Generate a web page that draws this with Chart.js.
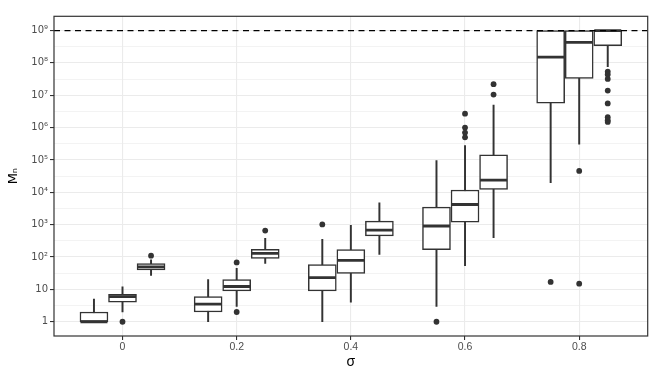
<!DOCTYPE html>
<html>
<head>
<meta charset="utf-8">
<script src="https://cdn.jsdelivr.net/npm/chart.js@4/dist/chart.umd.min.js"></script>
<style>
  html, body { margin: 0; padding: 0; background: #fff; }
  #wrap { width: 664px; height: 380px; }
</style>
</head>
<body>
<div id="wrap"><canvas id="boxChart"></canvas></div>
<script>
// box positions on the sigma axis
const positions = [-0.05, 0, 0.05, 0.15, 0.2, 0.25, 0.35, 0.4, 0.45, 0.55, 0.6, 0.65, 0.75, 0.8, 0.85];
// five-number summaries
const whiskerLow  = [1, 2, 27, 1, 3, 63, 1, 4, 120, 3, 54, 400, 2e4, 3.1e5, 7.6e7];
const q1          = [1, 4, 40, 2, 9, 91, 9, 31, 450, 170, 1200, 12300, 5.7e6, 3.3e7, 3.4e8];
const median      = [1, 6, 50, 3.5, 12.3, 129, 23, 79, 680, 910, 4200, 24000, 1.5e8, 4.3e8, 1e9];
const q3          = [2, 7, 63, 6, 20, 174, 58, 170, 1290, 3470, 11800, 1.45e5, 1e9, 1e9, 1e9];
const whiskerHigh = [5, 12, 82, 20, 45, 380, 355, 950, 4700, 96000, 2.8e5, 5e6, 1e9, 1e9, 1e9];
const outliers = [
  [], [1], [110],
  [], [68, 2], [660],
  [1020], [], [],
  [1], [2.7e6, 1e6, 7e5, 5e5], [2.2e7, 1.05e7],
  [17], [4.6e4, 15], [5.4e7, 4.4e7, 3.2e7, 1.4e7, 5.6e6, 2.1e6, 1.7e6, 1.5e6]
];
const xTicks = [0, 0.2, 0.4, 0.6, 0.8];
const yExponents = [0, 1, 2, 3, 4, 5, 6, 7, 8, 9];
const capLine = 1e9;

const sup = { '0': '⁰', '1': '¹', '2': '²', '3': '³', '4': '⁴', '5': '⁵', '6': '⁶', '7': '⁷', '8': '⁸', '9': '⁹' };
function isMajor(v) {
  const lg = Math.log10(v);
  return Math.abs(lg - Math.round(lg)) < 1e-6;
}

const ink = '#333333';
const gridCol = '#ebebeb';

// panel border like theme_bw
const framePlugin = {
  id: 'frame',
  afterDraw(chart) {
    const a = chart.chartArea;
    const c = chart.ctx;
    c.save();
    c.strokeStyle = ink;
    c.lineWidth = 1.2;
    c.strokeRect(a.left, a.top, a.right - a.left, a.bottom - a.top);
    c.restore();
  }
};

const outlierPts = [];
positions.forEach((x, i) => outliers[i].forEach(v => outlierPts.push({ x: x, y: v })));

const ctx = document.getElementById('boxChart').getContext('2d');
new Chart(ctx, {
  type: 'bar',
  data: {
    datasets: [
      {
        type: 'line',
        data: [{ x: -0.12, y: capLine }, { x: 0.92, y: capLine }],
        borderColor: '#000',
        borderWidth: 1.2,
        borderDash: [6, 4.5],
        pointRadius: 0,
        order: 0
      },
      {
        type: 'line',
        data: positions.map((x, i) => ({ x: x, y: median[i] })),
        showLine: false,
        pointStyle: 'line',
        pointRadius: 13.5,
        pointBorderWidth: 2.8,
        pointBorderColor: ink,
        order: 1
      },
      {
        type: 'line',
        data: outlierPts,
        showLine: false,
        pointRadius: 2.9,
        pointBackgroundColor: ink,
        pointBorderWidth: 0,
        order: 1
      },
      {
        data: positions.map((x, i) => ({ x: x, y: [q1[i], q3[i]] })),
        backgroundColor: '#fff',
        borderColor: ink,
        borderWidth: 1.5,
        borderSkipped: false,
        barThickness: 28,
        grouped: false,
        order: 2
      },
      {
        data: positions.map((x, i) => ({ x: x, y: [whiskerLow[i], whiskerHigh[i]] })),
        backgroundColor: ink,
        borderWidth: 0,
        barThickness: 1.3,
        grouped: false,
        order: 3
      }
    ]
  },
  options: {
    responsive: true,
    maintainAspectRatio: false,
    animation: false,
    layout: { padding: { left: 0, right: 7, top: 7, bottom: 0 } },
    plugins: { legend: { display: false }, tooltip: { enabled: false } },
    scales: {
      x: {
        type: 'linear',
        min: -0.12,
        max: 0.92,
        offset: false,
        afterBuildTicks: s => { s.ticks = xTicks.map(v => ({ value: v })); },
        afterFit: s => { s.height = 44; },
        grid: { color: gridCol, lineWidth: 1.1, tickColor: ink, tickLength: 4, offset: false },
        border: { display: false },
        ticks: {
          color: '#4d4d4d',
          font: { family: 'Liberation Sans', size: 10.5 },
          padding: 1,
          maxRotation: 0,
          callback: v => String(v)
        },
        title: {
          display: true,
          text: 'σ',
          color: '#000',
          font: { family: 'Liberation Sans', size: 14 },
          padding: { top: 0, bottom: 9 }
        }
      },
      y: {
        type: 'logarithmic',
        min: Math.pow(10, -0.44),
        max: Math.pow(10, 9.44),
        afterBuildTicks: s => {
          const t = [];
          yExponents.forEach(k => {
            t.push({ value: Math.pow(10, k) });
            if (k < 9) t.push({ value: Math.pow(10, k + 0.5) });
          });
          s.ticks = t;
        },
        afterFit: s => { s.width = 54; },
        grid: {
          color: gridCol,
          lineWidth: c => (c.tick && isMajor(c.tick.value) ? 1.1 : 0.6),
          tickColor: c => (c.tick && isMajor(c.tick.value) ? ink : 'rgba(0,0,0,0)'),
          tickLength: 4
        },
        border: { display: false },
        ticks: {
          color: '#4d4d4d',
          font: { family: 'DejaVu Sans', size: 10 },
          padding: 2,
          autoSkip: false,
          callback: v => {
            if (!isMajor(v)) return '';
            const k = Math.round(Math.log10(v));
            if (k === 0) return '1';
            if (k === 1) return '10';
            return '10' + String(k).split('').map(d => sup[d]).join('');
          }
        },
        title: {
          display: true,
          text: 'Mₙ',
          color: '#000',
          font: { family: 'DejaVu Sans', size: 13 },
          padding: { top: 6, bottom: 0 }
        }
      }
    }
  },
  plugins: [framePlugin]
});
</script>
</body>
</html>
